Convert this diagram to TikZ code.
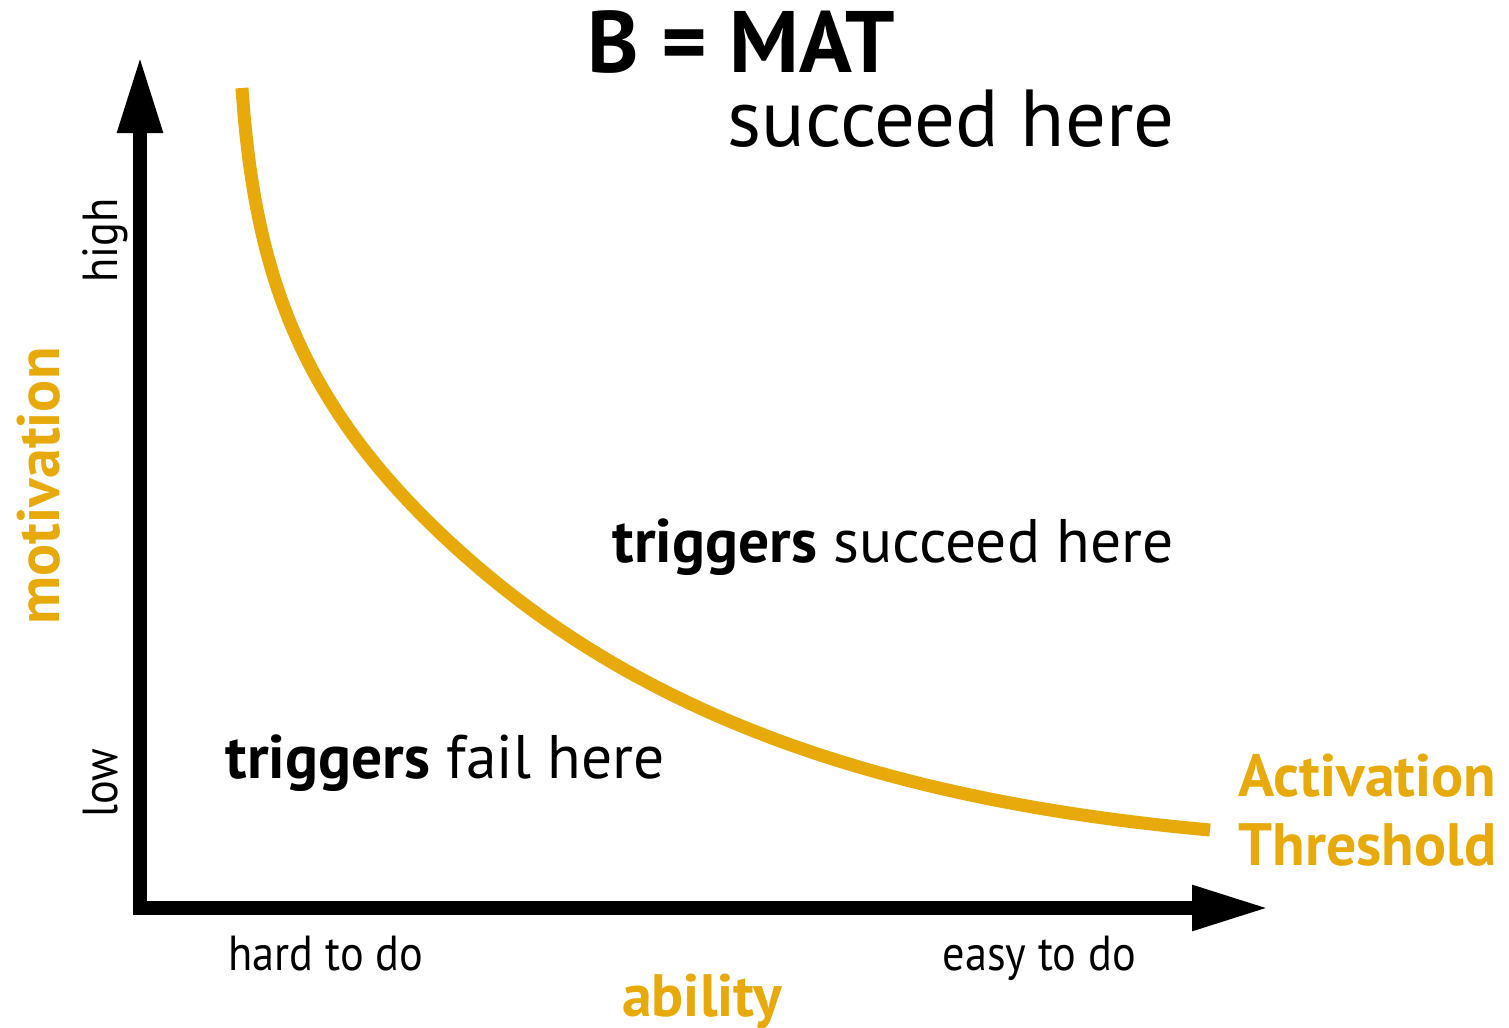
\documentclass[tikz,border=0pt]{standalone}
\usepackage{fontspec}
\setmainfont{PT Sans}
\newfontfamily\narrowfont{PT Sans}[FakeStretch=0.9]
\usetikzlibrary{arrows.meta}
\definecolor{matorange}{RGB}{232,170,10}

\tikzset{
    axisline/.style={line width=3.98pt, line join=miter,
        {Triangle[length=21.9pt,width=12pt]}-{Triangle[length=21.9pt,width=12pt]}},
    threshold/.style={line width=3.7pt, matorange, line cap=butt},
    txt/.style={inner sep=0pt, anchor=base west},
    titletxt/.style={txt, font=\fontsize{24.8}{30}\selectfont\bfseries},
    subtxt/.style={txt, font=\fontsize{23}{28}\selectfont},
    regiontxt/.style={txt, font=\fontsize{17.5}{21}\selectfont},
    ticktxt/.style={txt, font=\narrowfont\fontsize{14}{17}\selectfont},
    axistxt/.style={txt, matorange, font=\fontsize{17}{21}\selectfont\bfseries}
}

\begin{document}
\begin{tikzpicture}[x=0.01cm, y=-0.01cm]
    \useasboundingbox (0,0) rectangle (1509,1028);

    % axes
    \coordinate (ytip) at (140,56);
    \coordinate (xtip) at (1269,908);
    \draw [axisline] (ytip) |- (xtip);

    % activation threshold
    \coordinate (curvetop) at (242,88);
    \coordinate (curvemid) at (440,533);
    \coordinate (curveend) at (1210,830);
    \draw [threshold] (curvetop) .. controls (254,266) and (296,396) .. (curvemid)
        .. controls (604,689) and (831,796) .. (curveend);

    % labels
    \node[titletxt] (title) at (587,73) {B = MAT};
    \node[subtxt] (sub) at (727,147) {succeed here};
    \node[regiontxt] (succ) at (612,563) {\textbf{triggers} succeed here};
    \node[regiontxt] (fail) at (225,778) {\textbf{triggers} fail here};
    \node[axistxt] (act) at (1238,796) {Activation};
    \node[axistxt] (thr) at (1238,865) {Threshold};

    \node[ticktxt] (hard) at (228,970) {hard to do};
    \node[ticktxt] (easy) at (942,970) {easy to do};
    \node[axistxt, anchor=base] (abil) at (702,1016) {ability};

    \node[axistxt, rotate=90] (mot) at (59,625) {motivation};
    \node[ticktxt, rotate=90] (high) at (117,283) {high};
    \node[ticktxt, rotate=90] (low) at (117,818) {low};
\end{tikzpicture}
\end{document}
